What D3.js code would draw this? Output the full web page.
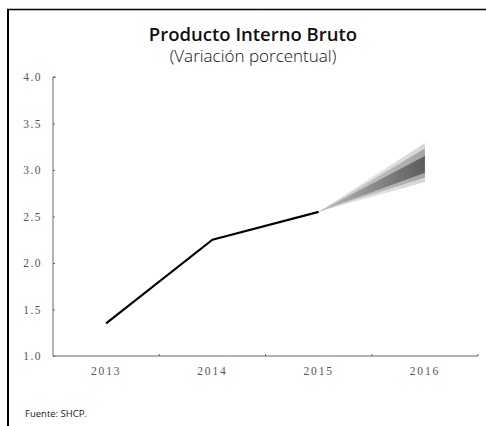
<!DOCTYPE html>
<html>
<head>
<meta charset="utf-8">
<script src="https://cdn.jsdelivr.net/npm/d3@7/dist/d3.min.js"></script>
<style>
  html, body { margin: 0; padding: 0; background: #fff; }
  svg { display: block; }
</style>
</head>
<body>
<script>
// PIB: observed growth and projection fan for 2016
const years = ["2013", "2014", "2015", "2016"];
const observedYears = ["2013", "2014", "2015"];
const observedValues = [1.35, 2.25, 2.55];
const yTicks = [1.0, 1.5, 2.0, 2.5, 3.0, 3.5, 4.0];
// projection bands: [2015 value, 2016 bound]
const fanYears = ["2015", "2016"];
const fanOuterLow = [2.55, 2.87];
const fanOuterHigh = [2.55, 3.29];
const fanMidLow = [2.55, 2.92];
const fanMidHigh = [2.55, 3.23];
const fanInnerLow = [2.55, 2.97];
const fanInnerHigh = [2.55, 3.15];

const W = 486, H = 426;
const svg = d3.select("body").append("svg").attr("width", W).attr("height", H);

// fan fades toward its tip
const defs = svg.append("defs");
const grad = defs.append("linearGradient").attr("id", "fanFade")
  .attr("x1", "0").attr("x2", "1").attr("y1", "0").attr("y2", "0");
grad.append("stop").attr("offset", "0").attr("stop-color", "#fff").attr("stop-opacity", 0.6);
grad.append("stop").attr("offset", "1").attr("stop-color", "#fff").attr("stop-opacity", 0);

// frame
svg.append("line").attr("x1", 8).attr("x2", 8).attr("y1", 9).attr("y2", H)
  .attr("stroke", "#000").attr("stroke-width", 2);
svg.append("line").attr("x1", 7).attr("x2", W).attr("y1", 9.5).attr("y2", 9.5)
  .attr("stroke", "#000").attr("stroke-width", 1.5);

// titles
svg.append("text").attr("x", 253).attr("y", 41).attr("text-anchor", "middle")
  .attr("font-family", "Open Sans").attr("font-weight", 600).attr("font-size", 18.5)
  .attr("fill", "#111").text("Producto Interno Bruto");
svg.append("text").attr("x", 253).attr("y", 62).attr("text-anchor", "middle")
  .attr("font-family", "Open Sans").attr("font-weight", 300).attr("font-size", 17)
  .attr("fill", "#111").text("(Variación porcentual)");

const plotLeft = 53, plotRight = 478, plotTop = 77, plotBottom = 356;
const x = d3.scaleBand().domain(years).range([plotLeft, plotRight]);
const y = d3.scaleLinear().domain([1.0, 4.0]).range([plotBottom, plotTop]);
const cx = d => x(d) + x.bandwidth() / 2;

// y axis
const yAxis = svg.append("g").attr("transform", `translate(${plotLeft},0)`)
  .call(d3.axisRight(y).tickValues(yTicks).tickSize(2).tickFormat(d3.format(".1f")));
yAxis.select(".domain").attr("stroke", "#666").attr("d", `M0,${plotTop}V${plotBottom}`);
yAxis.selectAll(".tick line").attr("stroke", "#666");
yAxis.selectAll(".tick text").attr("x", -11).attr("text-anchor", "end")
  .attr("font-family", "Liberation Serif").attr("font-size", 11.5)
  .attr("letter-spacing", 1.5).attr("fill", "#555");
svg.append("line").attr("x1", plotLeft).attr("x2", plotLeft + 3).attr("y1", plotTop).attr("y2", plotTop)
  .attr("stroke", "#666");

// x axis with ticks at band boundaries
const xAxis = svg.append("g").attr("transform", `translate(0,${plotBottom})`)
  .call(d3.axisBottom(x).tickSize(0).tickPadding(11));
xAxis.select(".domain").attr("stroke", "#666").attr("d", `M${plotLeft},0H${plotRight}V-2`);
xAxis.selectAll(".tick text").attr("font-family", "Liberation Serif").attr("font-size", 11.5)
  .attr("letter-spacing", 1.8).attr("fill", "#555");
years.slice(1).forEach(yr => {
  svg.append("line").attr("x1", x(yr)).attr("x2", x(yr)).attr("y1", plotBottom).attr("y2", plotBottom - 2)
    .attr("stroke", "#666");
});

// projection fan
function band(low, high, fill) {
  const pts = fanYears.map((d, i) => ({ x: cx(d), lo: low[i], hi: high[i] }));
  const area = d3.area().x(d => d.x).y0(d => y(d.lo)).y1(d => y(d.hi));
  return svg.append("path").datum(pts).attr("d", area).attr("fill", fill);
}
band(fanOuterLow, fanOuterHigh, "#d6d6d6");
band(fanMidLow, fanMidHigh, "#a4a4a4");
band(fanInnerLow, fanInnerHigh, "#5c5c5c");
band(fanOuterLow, fanOuterHigh, "url(#fanFade)");

// observed line
const line = d3.line().x((d, i) => cx(observedYears[i])).y(d => y(d));
svg.append("path").datum(observedValues).attr("d", line)
  .attr("fill", "none").attr("stroke", "#000").attr("stroke-width", 2.2)
  .attr("stroke-linejoin", "round");

// source
svg.append("text").attr("x", 25).attr("y", 417).attr("font-family", "Open Sans")
  .attr("font-size", 9.5).attr("fill", "#222").text("Fuente: SHCP.");
</script>
</body>
</html>
